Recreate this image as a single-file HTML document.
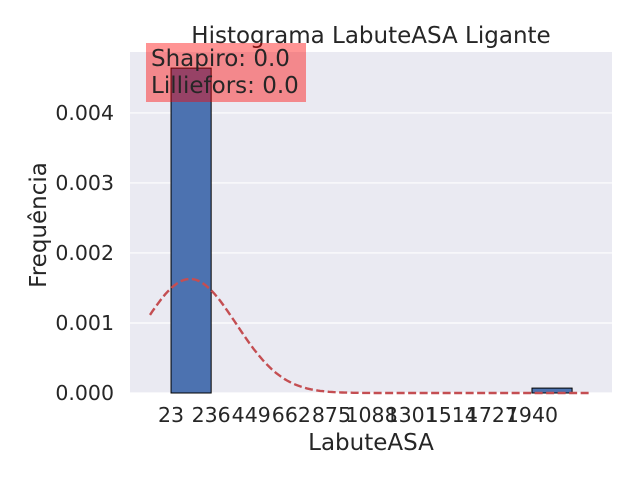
<!DOCTYPE html>
<html><head><meta charset="utf-8"><style>
body{margin:0;background:#fff;}
svg text{font-family:"DejaVu Sans","Liberation Sans",sans-serif;fill:#262626;}
</style></head><body>
<svg width="640" height="480" viewBox="0 0 640 480" xmlns="http://www.w3.org/2000/svg">
<rect x="130" y="52" width="482" height="341" fill="#eaeaf2"/>
<g id="grid"></g>
<g id="bars"></g>
<path id="curve" fill="none" stroke="#c44e52" stroke-width="2.4" stroke-dasharray="8,3.5"/>
<g id="xticks"></g>
<g id="yticks"></g>
<text x="371" y="43" font-size="23" text-anchor="middle">Histograma LabuteASA Ligante</text>
<text x="371" y="450" font-size="23" text-anchor="middle">LabuteASA</text>
<text transform="translate(46,225) rotate(-90)" font-size="23" text-anchor="middle">Frequência</text>
<rect x="146" y="43" width="160" height="59" fill="#ff0000" fill-opacity="0.42"/>
<text x="151" y="66" font-size="23">Shapiro: 0.0</text>
<text x="151" y="93" font-size="23">Lilliefors: 0.0</text>
</svg>
<script>
const binEdges=[23,236,449,662,875,1088,1301,1514,1727,1940,2153];
const densities=[0.00464,0,0,0,0,0,0,0,0,0.00007];
const xTickLabels=[23,236,449,662,875,1088,1301,1514,1727,1940];
const yTicks=[0,0.001,0.002,0.003,0.004];
const fitMean=124, fitSd=245;
const NS="http://www.w3.org/2000/svg";
const X0=-195,X1=2365,Y1=0.00487;
const xs=v=>130+(v-X0)/(X1-X0)*482;
const ys=v=>393-v/Y1*341;
function mk(t,a,p){const e=document.createElementNS(NS,t);for(const k in a)e.setAttribute(k,a[k]);p.appendChild(e);return e;}
const grid=document.getElementById('grid'),yt=document.getElementById('yticks'),xt=document.getElementById('xticks'),bars=document.getElementById('bars');
yTicks.forEach(v=>{
 const l=mk('line',{x1:130,x2:612,y1:ys(v),y2:ys(v),stroke:'#fff','stroke-width':1.2},grid);
 
 
 const t=mk('text',{x:114,y:ys(v)+7,'font-size':20.5,'text-anchor':'end'},yt);
 t.textContent=v.toFixed(3);
 
 
});
xTickLabels.forEach(v=>{
 const t=mk('text',{x:xs(v),y:422,'font-size':20.5,'text-anchor':'middle'},xt);
 t.textContent=v;
 
 
});
densities.forEach((d,i)=>{
 if(d<=0)return;
 const x=xs(binEdges[i]),w=xs(binEdges[i+1])-x;
 const r=mk('rect',{x:x,y:ys(d),width:w,height:393-ys(d),fill:'#4c72b0',stroke:'#000','stroke-width':1},bars);
 
 
});
let p='';
for(let k=0;k<=200;k++){
 const v=-89+k*(2259+89)/200;
 const y=Math.exp(-0.5*((v-fitMean)/fitSd)**2)/(fitSd*Math.sqrt(2*Math.PI));
 p+=(k?'L':'M')+xs(v).toFixed(1)+','+ys(y).toFixed(1);
}
document.getElementById('curve').setAttribute('d',p);
</script>
</body></html>
